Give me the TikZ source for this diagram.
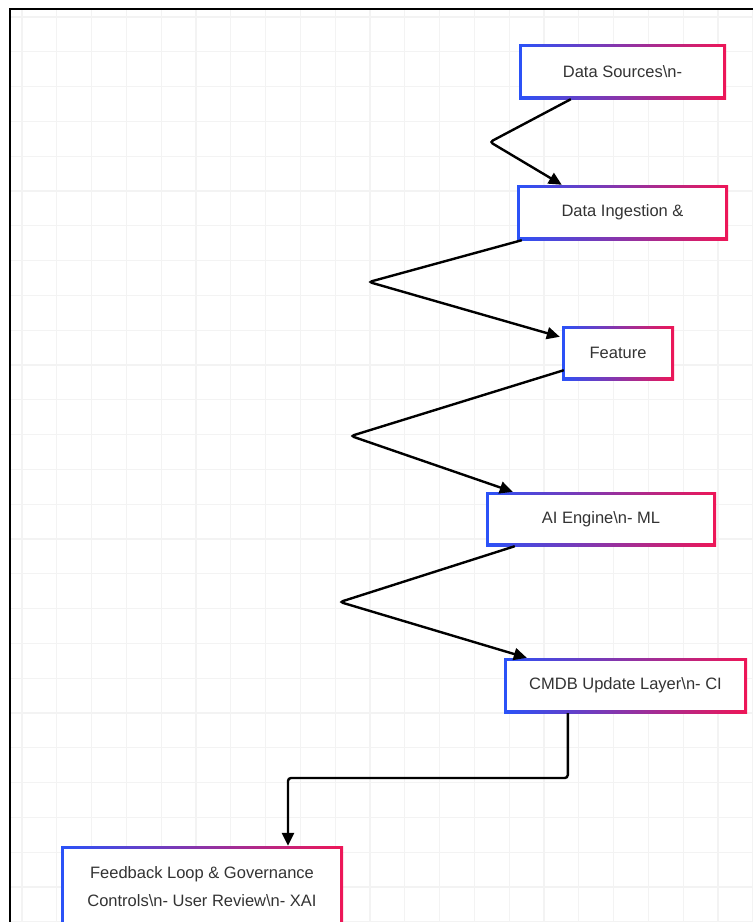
\documentclass[tikz,border=0pt]{standalone}
\usepackage{fontspec}
\setmainfont{Liberation Sans}
\usetikzlibrary{arrows.meta,calc}

\definecolor{edgeblue}{HTML}{2A52F8}
\definecolor{edgered}{HTML}{EE1657}
\definecolor{labelgray}{HTML}{333333}
\definecolor{gridgray}{HTML}{F3F3F3}

\tikzset{
  stage/.style={left color=edgeblue, right color=edgered, inner sep=0pt, text=labelgray,
    font=\fontsize{16.5}{28}\selectfont, align=center,
    path picture={\fill[white] ([shift={(2.6pt,-2.6pt)}]path picture bounding box.north west)
      rectangle ([shift={(-2.6pt,2.6pt)}]path picture bounding box.south east);}},
  flow/.style={line width=2.4pt, rounded corners=3pt, -{Triangle[length=13pt,width=12pt]}}
}

\begin{document}
\begin{tikzpicture}[x=1pt, y=-1pt]
\useasboundingbox (0,0) rectangle (753,922);
\clip (0,0) rectangle (753,922);
%grid
\foreach \gx in {0,...,21} \draw[gridgray, line width=1.2pt] (22+34.8*\gx,9) -- (22+34.8*\gx,922);
\foreach \gy in {0,...,26} \draw[gridgray, line width=1.2pt] (10,17+34.8*\gy) -- (753,17+34.8*\gy);
\draw[line width=2.2pt] (10,922) -- (10,9) -- (753,9);
%stages
\node[stage, minimum width=207pt, minimum height=55pt] (sources) at (622.5,71.5) {Data Sources\textbackslash n-};
\node[stage, minimum width=211pt, minimum height=55pt] (ingest) at (622.5,212.5) {Data Ingestion \&};
\node[stage, minimum width=112pt, minimum height=54pt] (feature) at (618,353) {Feature};
\node[stage, minimum width=230pt, minimum height=54pt] (engine) at (601,519) {AI Engine\textbackslash n- ML};
\node[stage, minimum width=243pt, minimum height=55pt] (cmdb) at (625.5,685.5) {CMDB Update Layer\textbackslash n- CI};
\node[stage, minimum width=282pt, minimum height=82pt] (feedback) at (202,887) {Feedback Loop \& Governance\\Controls\textbackslash n- User Review\textbackslash n- XAI};
%path
\coordinate (bend1) at (490,142);
\coordinate (bend2) at (369,282);
\coordinate (bend3) at (351,436);
\coordinate (bend4) at (340,602);
\coordinate (turn) at (288,778);
\path[draw, flow] ($(sources.south west)+(52,0)$) -- (bend1) -- ($(ingest.north west)+(45,0)$);
\path[draw, flow] ($(ingest.south west)+(5,0)$) -- (bend2) -- ($(feature.north west)+(-2,11)$);
\path[draw, flow] ($(feature.south west)+(2,-10)$) -- (bend3) -- ($(engine.north west)+(27,0)$);
\path[draw, flow] ($(engine.south west)+(29,0)$) -- (bend4) -- ($(cmdb.north west)+(23,0)$);
\path[draw, flow] ($(cmdb.south west)+(64,0)$) |- (turn) -- (turn |- feedback.north);
\end{tikzpicture}
\end{document}
